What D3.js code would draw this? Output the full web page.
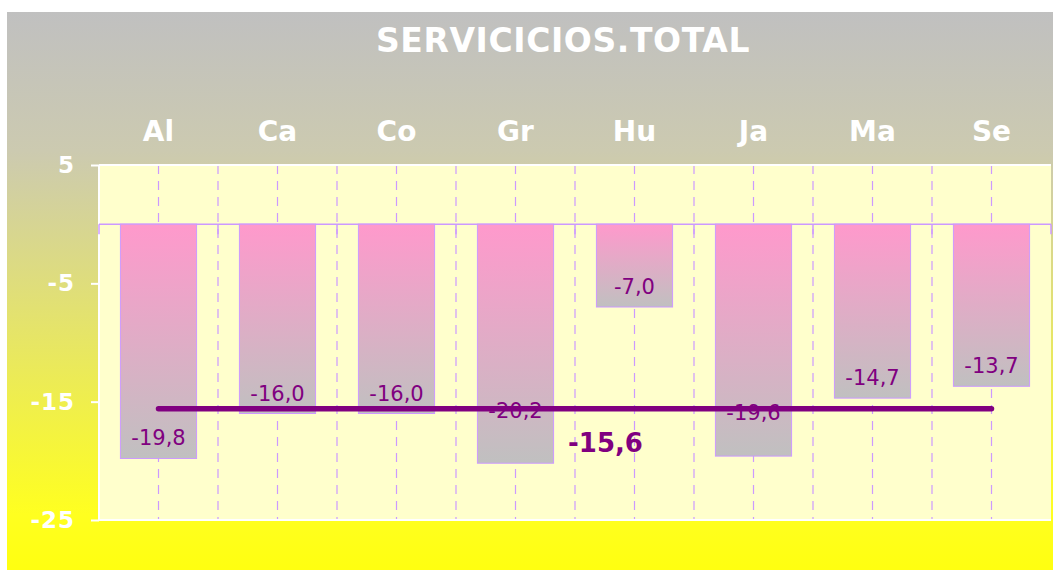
<!DOCTYPE html>
<html><head><meta charset="utf-8">
<script src="https://cdn.jsdelivr.net/npm/d3@7/dist/d3.min.js"></script>
<style>body{margin:0;background:#fff}svg{display:block}text{font-family:"DejaVu Sans",Verdana,sans-serif}</style>
</head><body>
<svg id="c" width="1053" height="570"></svg>
<script>
const title = "SERVICICIOS.TOTAL";
const categories = ["Al","Ca","Co","Gr","Hu","Ja","Ma","Se"];
const values = [-19.8,-16.0,-16.0,-20.2,-7.0,-19.6,-14.7,-13.7];
const average = -15.6;
const yTicks = [5,-5,-15,-25];

(function(){
// labels that were moved up by hand in the original (pixels above bar end)
const labelLift = {Gr: 45, Ja: 36};
const svg = d3.select("#c");
const defs = svg.append("defs");
const bg = defs.append("linearGradient").attr("id","bg").attr("x1",0).attr("y1",0).attr("x2",0).attr("y2",1);
bg.append("stop").attr("offset","0%").attr("stop-color","#c0c0c0");
bg.append("stop").attr("offset","25%").attr("stop-color","#cccab0");
bg.append("stop").attr("offset","90%").attr("stop-color","#ffff20");
bg.append("stop").attr("offset","100%").attr("stop-color","#ffff10");
const bar = defs.append("linearGradient").attr("id","bar").attr("x1",0).attr("y1",0).attr("x2",0).attr("y2",1);
bar.append("stop").attr("offset","0%").attr("stop-color","#ff99cc");
bar.append("stop").attr("offset","100%").attr("stop-color","#c0c0c0");

svg.append("rect").attr("x",7).attr("y",12).attr("width",1046).attr("height",558).attr("fill","url(#bg)");

const pL = 99, pR = 1051, pT = 165, pB = 520;
const x = d3.scaleBand().domain(categories).range([pL,pR]).paddingInner(0.36).paddingOuter(0.18);
const y = d3.scaleLinear().domain([-25,5]).range([pB,pT]);

svg.append("rect").attr("x",pL).attr("y",pT).attr("width",pR-pL).attr("height",pB-pT)
  .attr("fill","#ffffcc");

const step = x.step();
const grid = [];
categories.forEach((c,i)=>{ grid.push(pL+step*i+step/2); if(i>0) grid.push(pL+step*i); });
svg.append("g").selectAll("line").data(grid).join("line")
  .attr("x1",d=>d).attr("x2",d=>d).attr("y1",pT).attr("y2",pB)
  .attr("stroke","#cc99ff").attr("stroke-width",1.2).attr("stroke-dasharray","9,7");

svg.append("path").attr("d",`M${pL},${pT}H${pR}M${pL},${pT}V${pB}H${pR}`)
  .attr("stroke","#ffffff").attr("stroke-width",2).attr("fill","none");

svg.append("line").attr("x1",pL).attr("x2",pR).attr("y1",y(0)).attr("y2",y(0))
  .attr("stroke","#cc99ff").attr("stroke-width",1.5);
svg.append("g").selectAll("line").data(d3.range(categories.length+1)).join("line")
  .attr("x1",i=>pL+step*i).attr("x2",i=>pL+step*i).attr("y1",y(0)).attr("y2",y(0)+10)
  .attr("stroke","#cc99ff").attr("stroke-width",1.5);

svg.append("g").selectAll("rect").data(values).join("rect")
  .attr("x",(d,i)=>x(categories[i])).attr("width",x.bandwidth())
  .attr("y",y(0)).attr("height",d=>y(d)-y(0))
  .attr("fill","url(#bar)").attr("stroke","#cc99ff").attr("stroke-width",1);

const fmt = v => d3.format(".1f")(v).replace("−","-").replace(".",",");
svg.append("g").selectAll("text").data(values).join("text")
  .attr("x",(d,i)=>x(categories[i])+x.bandwidth()/2)
  .attr("y",(d,i)=>y(d)-(labelLift[categories[i]]||13))
  .attr("text-anchor","middle").attr("fill","#800080").attr("font-size",21)
  .text(fmt);

svg.append("line")
  .attr("x1",x(categories[0])+x.bandwidth()/2).attr("x2",x(categories[categories.length-1])+x.bandwidth()/2)
  .attr("y1",y(average)).attr("y2",y(average))
  .attr("stroke","#800080").attr("stroke-width",5.5).attr("stroke-linecap","round");
svg.append("text").attr("x",568).attr("y",y(average)+43)
  .attr("fill","#800080").attr("font-size",26).attr("font-weight","bold")
  .text(fmt(average));

const yAxis = svg.append("g").attr("transform",`translate(${pL},0)`)
  .call(d3.axisLeft(y).tickValues(yTicks).tickSize(8).tickPadding(16).tickFormat(d=>String(d)));
yAxis.select(".domain").remove();
yAxis.selectAll("line").attr("stroke","#ffffff").attr("stroke-width",2);
yAxis.selectAll("text").attr("fill","#ffffff").attr("font-size",23).attr("font-weight","bold")
  .attr("font-family","DejaVu Sans, Verdana, sans-serif").attr("letter-spacing",1);

svg.append("g").selectAll("text").data(categories).join("text")
  .attr("x",d=>x(d)+x.bandwidth()/2).attr("y",141)
  .attr("text-anchor","middle").attr("fill","#ffffff").attr("font-size",28).attr("font-weight","bold")
  .text(d=>d);

svg.append("text").attr("x",563).attr("y",52).attr("text-anchor","middle")
  .attr("fill","#ffffff").attr("font-size",33).attr("font-weight","bold").attr("letter-spacing",0.6).text(title);
})();
</script>
</body></html>
